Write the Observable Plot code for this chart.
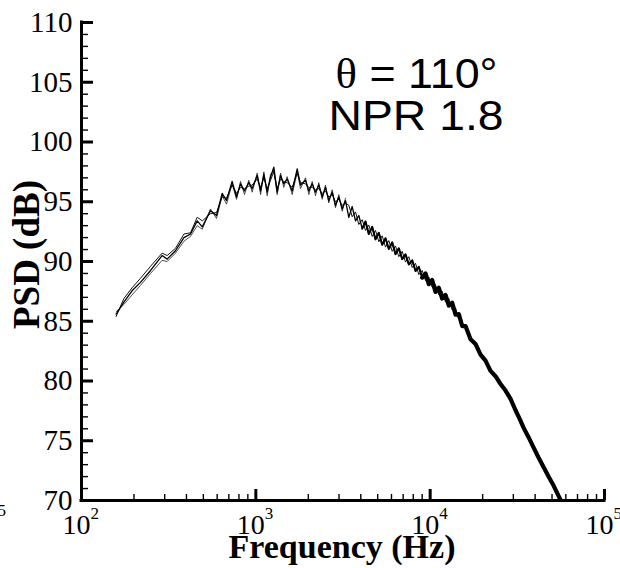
<!DOCTYPE html>
<html>
<head>
<meta charset="utf-8">
<script src="https://cdn.jsdelivr.net/npm/d3@7"></script>
<script src="https://cdn.jsdelivr.net/npm/@observablehq/plot@0.6"></script>
<style>
  html, body { margin: 0; padding: 0; background: #fff; overflow: hidden; }
  #chart { width: 620px; height: 568px; }
</style>
</head>
<body>
<div id="chart"></div>
<script>
// Frequencies (Hz) shared by all runs
const freq = [
  158,175,195,218,249,290,310,346,387,422,
  461,493,549,595,641,679,731,775,817,861,
  911,953,1018,1065,1112,1162,1214,1268,1326,1386,
  1446,1512,1617,1727,1804,1927,2013,2105,2199,2297,
  2403,2509,2621,2742,2864,2992,3130,3269,3415,3571,
  3730,3896,4075,4256,4446,4651,4858,5075,5307,5544,
  5791,6057,6328,6610,6913,7220,7543,7889,8240,8606,
  9000,9404,9822,10270,10730,11210,11720,12250,12790,13380,
  13980,14600,15270,15950,17040,18200,19450,20770,22190,23710,
  25330,27060,28910,30880,32560,34320,36660,39160,41830,44700,
  47760,51020,55940,59760
];
// PSD (dB) run 1 (full range)
const psdRun1 = [
  85.6,86.6,87.55,88.25,89.25,90.5,90.2,90.9,92.0,92.3,
  93.4,92.9,94.25,93.85,95.7,95.1,96.7,95.4,96.5,95.9,
  96.6,96.1,97.2,95.9,97.3,95.8,97.05,97.9,95.8,97.2,
  96.5,96.9,95.9,97.75,96.4,96.8,95.9,96.5,95.8,96.4,
  95.4,96.2,95.1,95.8,94.7,95.4,94.4,95.1,93.7,94.6,
  93.4,93.85,92.75,93.35,92.3,92.9,91.85,92.4,91.4,91.95,
  91.05,91.6,90.6,91.1,90.2,90.6,89.75,90.1,89.2,89.55,
  88.65,89.0,88.1,88.45,87.45,87.8,86.9,87.2,86.3,86.55,
  85.55,85.6,84.6,84.6,83.5,83.1,82.2,81.7,80.85,80.4,
  79.75,79.2,78.5,77.55,76.85,76.1,75.3,74.45,73.6,72.8,
  72.0,71.25,70.05,69.2
];
// PSD (dB) run 2 (up to 15.3 kHz, same frequencies)
const psdRun2 = [
  85.4,86.9,87.8,88.6,89.6,90.7,90.5,91.1,92.3,92.4,
  93.7,93.4,94.0,94.1,95.4,95.3,96.4,95.7,96.2,96.1,
  96.3,96.4,96.9,96.2,97.0,96.1,96.8,97.5,96.1,96.9,
  96.7,96.6,96.2,97.4,96.6,96.5,96.2,96.2,96.0,96.1,
  95.7,95.9,95.4,95.6,95.0,95.2,94.7,94.9,94.7,93.75,
  94.15,93.1,93.5,92.6,93.05,92.1,92.6,91.65,92.15,91.2,
  91.75,90.85,91.3,90.4,90.85,89.95,90.4,89.5,89.85,88.9,
  89.25,88.4,88.7,87.85,88.05,87.2,87.5,86.6,86.9,85.95,
  86.1,85.15,85.05
];
// PSD (dB) run 3 (low-frequency part, same frequencies)
const psdRun3 = [
  85.8,86.4,87.2,88.0,89.0,90.1,90.0,90.7,91.7,92.1,
  93.0,92.7,94.4,93.6,95.5,94.8,96.5,95.2,96.7,95.6,
  96.8,95.8,97.4,95.6,97.5,95.5,97.3,97.6,95.6,97.4,
  96.2,97.1,95.6,97.5,96.1,97.0,95.6,96.7,95.5,96.6,
  95.2,96.4,94.9,96.0,94.5,95.6,94.2,95.3
];

// Axis ticks
const yMajor = [70,75,80,85,90,95,100,105,110];
const yMinor = [71,72,73,74,76,77,78,79,81,82,83,84,86,87,88,89,91,92,93,94,96,97,98,99,101,102,103,104,106,107,108,109];
const xMajor = [100,1000,10000,100000];
const xMinor = [200,300,400,500,600,700,800,900,2000,3000,4000,5000,6000,7000,8000,9000,20000,30000,40000,50000,60000,70000,80000,90000];
const xTickBase = ["10","10","10","10"];
const xTickExp = ["2","3","4","5"];
const yTickLabels = ["70","75","80","85","90","95","100","105","110"];

const xTitle = "Frequency (Hz)";
const yTitle = "PSD (dB)";
const annotations = ["θ = 110°", "NPR 1.8"];

const rows1 = freq.map((f, i) => ({f, psd: psdRun1[i]}));
const rows2 = psdRun2.map((p, i) => ({f: freq[i], psd: p}));
const rows3 = psdRun3.map((p, i) => ({f: freq[i], psd: p}));
const rowsMid = rows1.filter(d => d.f >= 4000);
const rowsBand = rows1.filter(d => d.f >= 9000);

const W = 620, H = 568, mL = 81, mR = 16, mT = 22, mB = 68;
const plotW = W - mL - mR, plotH = H - mT - mB;
const serif = "Liberation Serif, Times New Roman, serif";
const sans = "Liberation Sans, Arial, sans-serif";

const chart = Plot.plot({
  width: W, height: H,
  marginLeft: mL, marginRight: mR, marginTop: mT, marginBottom: mB,
  style: {background: "#fff", overflow: "visible"},
  x: {type: "log", domain: [100, 100000], axis: null},
  y: {domain: [70, 110], axis: null},
  marks: [
    // data
    Plot.line(rows3, {x: "f", y: "psd", stroke: "#222", strokeWidth: 0.8, clip: true}),
    Plot.line(rows2, {x: "f", y: "psd", stroke: "#111", strokeWidth: 1, clip: true}),
    Plot.line(rows1, {x: "f", y: "psd", stroke: "#000", strokeWidth: 1.3, clip: true}),
    Plot.line(rowsMid, {x: "f", y: "psd", stroke: "#000", strokeWidth: 2, clip: true}),
    Plot.line(rowsBand, {x: "f", y: "psd", stroke: "#000", strokeWidth: 4.2, clip: true}),
    // ticks (inward)
    Plot.tickY(yMinor, {y: d => d, insetRight: plotW - 7, stroke: "#000", strokeWidth: 1.4}),
    Plot.tickY(yMajor, {y: d => d, insetRight: plotW - 12, stroke: "#000", strokeWidth: 3}),
    Plot.tickX(xMinor, {x: d => d, insetTop: plotH - 6, stroke: "#000", strokeWidth: 1.4}),
    Plot.tickX(xMajor, {x: d => d, insetTop: plotH - 11, stroke: "#000", strokeWidth: 3}),
    // axis lines
    Plot.ruleX([100], {stroke: "#000", strokeWidth: 3, strokeLinecap: "square"}),
    Plot.ruleY([70], {stroke: "#000", strokeWidth: 3, strokeLinecap: "square"}),
    // y tick labels
    Plot.text(yMajor, {y: d => d, text: (d, i) => yTickLabels[i], frameAnchor: "left", dx: -9,
      textAnchor: "end", fontFamily: serif, fontSize: 29, fill: "#000"}),
    // x tick labels: base and exponent
    Plot.text(xMajor, {x: d => d, text: (d, i) => xTickBase[i], frameAnchor: "bottom", dx: -5, dy: 33,
      lineAnchor: "bottom", textAnchor: "middle", fontFamily: serif, fontSize: 28, fill: "#000"}),
    Plot.text(xMajor, {x: d => d, text: (d, i) => xTickExp[i], frameAnchor: "bottom", dx: 9, dy: 18,
      lineAnchor: "bottom", textAnchor: "start", fontFamily: serif, fontSize: 17, fill: "#000"}),
    // clipped stray exponent at the far left
    Plot.text(["5"], {frameAnchor: "bottom-left", dx: -84, dy: 15, lineAnchor: "bottom",
      textAnchor: "start", fontFamily: serif, fontSize: 17, fill: "#000"}),
    // axis titles
    Plot.text([xTitle], {frameAnchor: "bottom", dx: -1, dy: 57, lineAnchor: "bottom", textAnchor: "middle",
      fontFamily: serif, fontWeight: "bold", fontSize: 34, fill: "#000"}),
    Plot.text([yTitle], {frameAnchor: "left", dx: -43, dy: -7, rotate: -90, lineAnchor: "bottom",
      textAnchor: "middle", fontFamily: serif, fontWeight: "bold", fontSize: 37, fill: "#000"}),
    // annotations
    Plot.text([annotations[0]], {frameAnchor: "top", dx: 73.5, dy: 65, lineAnchor: "bottom",
      textAnchor: "middle", fontFamily: sans, fontSize: 42, fill: "#000"}),
    Plot.text([annotations[1]], {frameAnchor: "top", dx: 73, dy: 107, lineAnchor: "bottom",
      textAnchor: "middle", fontFamily: sans, fontSize: 42, fill: "#000"})
  ]
});

// Stretch annotation text to the reference widths; serif theta glyph
chart.querySelectorAll("text").forEach(t => {
  if (t.textContent === annotations[0]) {
    t.textContent = "";
    const ns = "http://www.w3.org/2000/svg";
    const th = document.createElementNS(ns, "tspan");
    th.setAttribute("font-family", serif);
    th.textContent = annotations[0].slice(0, 1);
    const rest = document.createElementNS(ns, "tspan");
    rest.textContent = annotations[0].slice(1);
    t.appendChild(th); t.appendChild(rest);
    t.setAttribute("textLength", 162); t.setAttribute("lengthAdjust", "spacingAndGlyphs");
  }
  if (t.textContent === annotations[1]) { t.setAttribute("textLength", 175); t.setAttribute("lengthAdjust", "spacingAndGlyphs"); }
});

document.getElementById("chart").appendChild(chart);
</script>
</body>
</html>
